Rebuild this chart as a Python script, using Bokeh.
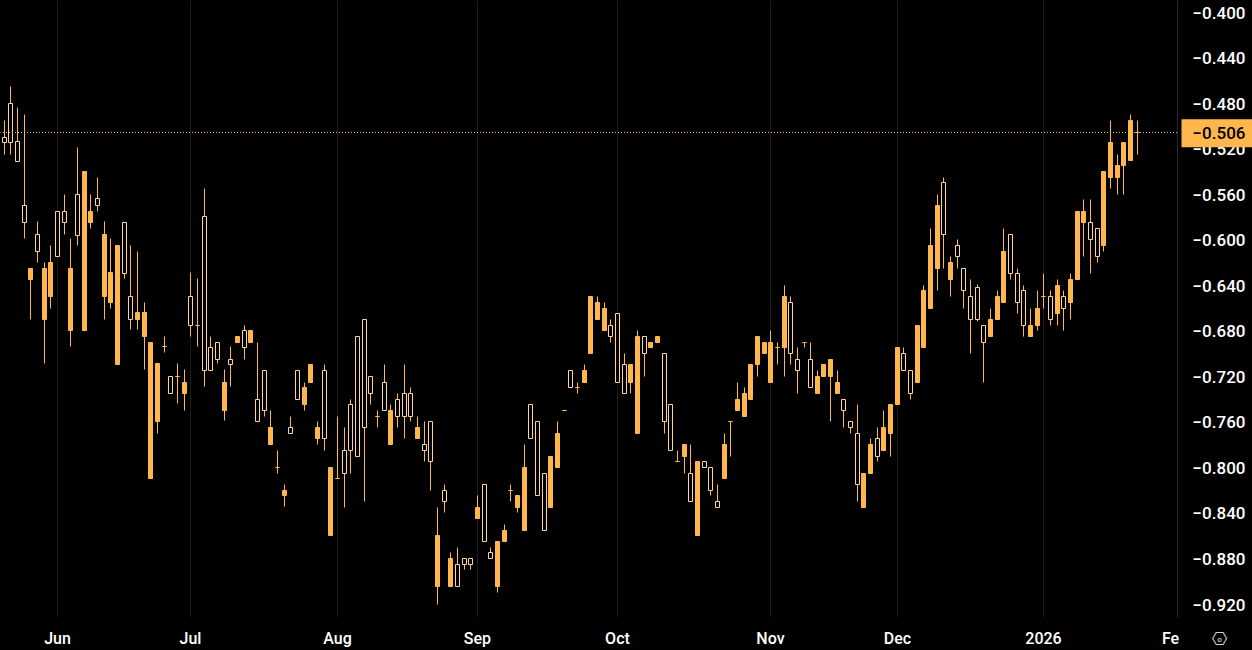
import math
from bokeh.embed import file_html
from bokeh.resources import INLINE
from bokeh.plotting import figure
from bokeh.models import (ColumnDataSource, FixedTicker, LinearAxis, Range1d, Label)

OPEN = [-.515,-.515,-.531,-.585,-.625,-.610,-.625,-.620,-.615,-.585,
        -.625,-.596,-.540,-.575,-.570,-.595,-.629,-.605,-.630,-.670,
        -.664,-.664,-.690,-.709,-.694,-.735,-.720,-.725,-.675,-.675,
        -.715,-.715,-.705,-.725,-.710,-.685,-.695,-.680,-.760,-.750,
        -.765,-.800,-.820,-.770,-.740,-.730,-.710,-.765,-.775,-.800,
        -.810,-.805,-.785,-.790,-.765,-.735,-.755,-.750,-.750,-.755,
        -.755,-.755,-.765,-.785,-.795,-.860,-.830,-.880,-.905,-.885,
        -.885,-.835,-.865,-.880,-.865,-.855,-.820,-.825,-.800,-.775,
        -.825,-.855,-.790,-.770,-.750,-.730,-.730,-.715,-.650,-.655,
        -.660,-.685,-.725,-.735,-.710,-.685,-.700,-.690,-.685,-.760,
        -.785,-.795,-.780,-.830,-.795,-.800,-.820,-.835,-.780,-.760,
        -.740,-.735,-.710,-.685,-.690,-.690,-.695,-.650,-.700,-.715,
        -.690,-.730,-.720,-.710,-.705,-.725,-.750,-.765,-.815,-.805,
        -.780,-.790,-.765,-.745,-.695,-.715,-.735,-.675,-.645,-.605,
        -.570,-.595,-.620,-.615,-.645,-.670,-.670,-.690,-.670,-.650,
        -.610,-.630,-.655,-.675,-.675,-.660,-.650,-.670,-.640,-.660,
        -.635,-.575,-.575,-.600,-.615,-.540,-.515,-.535,-.515,-.495,-.506]
CLOSE = [-.510,-.480,-.514,-.570,-.635,-.595,-.670,-.650,-.575,-.575,
         -.680,-.560,-.680,-.585,-.564,-.650,-.655,-.710,-.585,-.650,
         -.670,-.685,-.810,-.760,-.694,-.720,-.720,-.735,-.650,-.675,
         -.580,-.695,-.690,-.750,-.705,-.690,-.680,-.690,-.740,-.715,
         -.780,-.800,-.825,-.765,-.715,-.745,-.725,-.775,-.715,-.860,
         -.810,-.785,-.745,-.685,-.670,-.720,-.755,-.725,-.780,-.740,
         -.735,-.735,-.775,-.780,-.760,-.905,-.820,-.905,-.885,-.880,
         -.880,-.845,-.815,-.875,-.905,-.865,-.820,-.835,-.855,-.745,
         -.760,-.805,-.835,-.800,-.750,-.715,-.730,-.725,-.700,-.670,
         -.680,-.675,-.665,-.710,-.725,-.770,-.685,-.695,-.690,-.700,
         -.745,-.795,-.790,-.805,-.860,-.795,-.800,-.830,-.810,-.760,
         -.750,-.755,-.740,-.710,-.700,-.725,-.695,-.695,-.655,-.705,
         -.690,-.705,-.735,-.720,-.720,-.735,-.740,-.760,-.770,-.835,
         -.805,-.775,-.785,-.770,-.745,-.700,-.715,-.725,-.695,-.660,
         -.625,-.550,-.635,-.605,-.625,-.650,-.642,-.675,-.685,-.670,
         -.655,-.595,-.630,-.645,-.685,-.675,-.650,-.650,-.665,-.650,
         -.655,-.635,-.585,-.585,-.590,-.605,-.545,-.545,-.535,-.530,-.506]
HIGH = [-.495,-.465,-.484,-.490,-.625,-.584,-.620,-.605,-.575,-.560,
        -.599,-.519,-.540,-.560,-.545,-.584,-.599,-.605,-.585,-.605,
        -.610,-.655,-.690,-.709,-.685,-.720,-.709,-.714,-.629,-.634,
        -.555,-.685,-.690,-.714,-.694,-.685,-.675,-.680,-.690,-.715,
        -.750,-.785,-.815,-.755,-.715,-.725,-.710,-.760,-.710,-.800,
        -.755,-.765,-.740,-.685,-.670,-.720,-.750,-.710,-.745,-.735,
        -.710,-.730,-.755,-.760,-.760,-.835,-.815,-.875,-.870,-.880,
        -.880,-.825,-.815,-.870,-.865,-.850,-.815,-.825,-.780,-.745,
        -.760,-.805,-.790,-.760,-.750,-.715,-.725,-.710,-.650,-.650,
        -.655,-.670,-.665,-.700,-.710,-.680,-.685,-.690,-.685,-.700,
        -.745,-.785,-.780,-.780,-.795,-.795,-.800,-.815,-.770,-.760,
        -.725,-.730,-.710,-.685,-.690,-.680,-.690,-.640,-.650,-.695,
        -.690,-.690,-.715,-.710,-.705,-.715,-.740,-.760,-.745,-.805,
        -.775,-.765,-.750,-.745,-.695,-.695,-.715,-.675,-.640,-.590,
        -.560,-.545,-.615,-.600,-.625,-.635,-.639,-.675,-.660,-.645,
        -.590,-.595,-.625,-.640,-.660,-.645,-.630,-.645,-.635,-.645,
        -.630,-.575,-.565,-.565,-.590,-.540,-.495,-.525,-.515,-.490,-.495]
LOW = [-.525,-.525,-.531,-.599,-.670,-.620,-.709,-.660,-.615,-.595,
       -.694,-.605,-.680,-.590,-.575,-.670,-.660,-.710,-.634,-.679,
       -.679,-.714,-.810,-.770,-.699,-.735,-.744,-.750,-.685,-.694,
       -.729,-.715,-.709,-.759,-.729,-.690,-.705,-.690,-.760,-.755,
       -.780,-.805,-.834,-.770,-.740,-.750,-.725,-.780,-.785,-.860,
       -.810,-.835,-.805,-.790,-.830,-.745,-.765,-.750,-.780,-.765,
       -.775,-.760,-.775,-.795,-.820,-.920,-.840,-.905,-.905,-.890,
       -.890,-.845,-.865,-.880,-.910,-.865,-.830,-.840,-.855,-.775,
       -.825,-.855,-.835,-.800,-.750,-.730,-.735,-.725,-.700,-.670,
       -.680,-.690,-.725,-.735,-.735,-.770,-.720,-.695,-.690,-.770,
       -.785,-.795,-.805,-.830,-.860,-.800,-.825,-.835,-.810,-.790,
       -.750,-.755,-.740,-.720,-.700,-.725,-.710,-.720,-.710,-.735,
       -.695,-.730,-.735,-.720,-.760,-.735,-.765,-.770,-.830,-.835,
       -.805,-.795,-.785,-.790,-.745,-.715,-.740,-.725,-.695,-.660,
       -.645,-.625,-.650,-.625,-.660,-.700,-.672,-.725,-.685,-.670,
       -.655,-.635,-.665,-.685,-.685,-.680,-.660,-.675,-.675,-.680,
       -.670,-.635,-.615,-.630,-.620,-.610,-.555,-.560,-.560,-.530,-.525]

MONTH_SESSIONS = [8, 28, 50, 71, 92, 115, 134, 156, 175]
MONTH_LABELS = ["Jun", "Jul", "Aug", "Sep", "Oct", "Nov", "Dec", "2026", "Fe"]
Y_TICKS = [-.400, -.440, -.480, -.520, -.560, -.600, -.640, -.680, -.720, -.760, -.800, -.840, -.880, -.920]

ORANGE = "#ffb74d"
PALE = "#ffd597"
FONT = "Roboto Medium"

W, H, FRAME_W, FRAME_H = 1252, 650, 1177, 617
STEP = 6.665
PX_PER_UNIT = 1138.5
Y_END = -0.4 + 12 / PX_PER_UNIT


def dx(px):
    return px / STEP


def dy(px):
    return Y_END - px / PX_PER_UNIT


def sx(i):
    # Bokeh's canvas already offsets by half a pixel, so whole pixels draw crisp
    return dx(math.floor(4.2 + STEP * i))


def sy(v):
    return dy(math.floor((Y_END - v) * PX_PER_UNIT))


p = figure(width=W, height=H, frame_width=FRAME_W, frame_height=FRAME_H,
           output_backend="svg", toolbar_location=None,
           x_range=Range1d(0, dx(FRAME_W)), y_range=Range1d(dy(FRAME_H), Y_END),
           background_fill_color="#000000", border_fill_color="#000000",
           x_axis_location="below", y_axis_location=None,
           min_border_left=0, min_border_top=0, min_border_right=W - FRAME_W, min_border_bottom=H - FRAME_H)
p.outline_line_color = None
p.styles = {"position": "fixed", "left": "0", "top": "0", "background": "#000000"}

n = len(OPEN)
xs = [sx(i) for i in range(n)]
hollow = [CLOSE[i] >= OPEN[i] for i in range(n)]
fill = ["#000000" if h else ORANGE for h in hollow]
edge = [PALE if h and OPEN[i] != CLOSE[i] else ORANGE for i, h in enumerate(hollow)]
src = ColumnDataSource(dict(x=xs, high=[sy(v) for v in HIGH], low=[sy(v) for v in LOW],
                            top=[sy(max(OPEN[i], CLOSE[i])) for i in range(n)],
                            bottom=[sy(min(OPEN[i], CLOSE[i])) for i in range(n)],
                            fill=fill, edge=edge))

p.xgrid.ticker = FixedTicker(ticks=[sx(i) for i in MONTH_SESSIONS[:-1]])
p.xgrid.grid_line_color = "#1c1c1c"
p.xgrid.grid_line_width = 1
p.ygrid.visible = False

p.segment("x", "high", "x", "low", source=src, line_color=ORANGE, line_width=1)
p.vbar(x="x", width=4 / STEP, top="top", bottom="bottom", source=src,
       fill_color="fill", line_color="edge", line_width=1)

xax = p.xaxis[0]
xax.ticker = FixedTicker(ticks=[sx(i) for i in MONTH_SESSIONS])
xax.major_label_overrides = {sx(i): t for i, t in zip(MONTH_SESSIONS, MONTH_LABELS)}
xax.axis_line_color = None
xax.major_tick_out = 0
xax.major_tick_in = 0
xax.minor_tick_out = 0
xax.minor_tick_in = 0
xax.major_label_text_color = "#ffffff"
xax.major_label_text_font = FONT
xax.major_label_text_font_size = "16px"
xax.major_label_text_font_style = "normal"
xax.major_label_standoff = 11

yax = LinearAxis(ticker=FixedTicker(ticks=Y_TICKS),
                 major_label_overrides={v: "\u2212%.3f" % abs(v) for v in Y_TICKS})
yax.axis_line_color = "#2a2a2a"
yax.major_tick_out = 0
yax.major_tick_in = 0
yax.minor_tick_out = 0
yax.minor_tick_in = 0
yax.major_label_text_color = "#ffffff"
yax.major_label_text_font = FONT
yax.major_label_text_font_size = "17px"
yax.major_label_standoff = 15
p.add_layout(yax, "right")

last = CLOSE[-1]
# dotted price line starts half a pixel early so each 1px dot covers a single pixel
p.segment(x0=[dx(-0.5)], y0=[sy(last)], x1=[dx(FRAME_W)], y1=[sy(last)],
          line_color=ORANGE, line_width=1, line_dash="1 2")
p.add_layout(Label(x=dx(1181), y=last, text="\u2212%.3f" % abs(last),
                   text_color="#000000", text_font=FONT, text_font_size="17px",
                   text_baseline="middle", text_align="left",
                   background_fill_color=ORANGE, background_fill_alpha=1, padding=(11, 8)), "right")
p.add_layout(Label(x=dx(1219), y=dy(638), text="\u2394", text_color="#d0d0d0",
                   text_font="DejaVu Sans", text_font_size="18px",
                   text_baseline="middle", text_align="center"), "below")
p.add_layout(Label(x=dx(1219), y=dy(638.5), text="\u2218", text_color="#d0d0d0",
                   text_font="DejaVu Sans", text_font_size="13px",
                   text_baseline="middle", text_align="center"), "below")

open("out.html", "w").write(file_html(p, INLINE))
